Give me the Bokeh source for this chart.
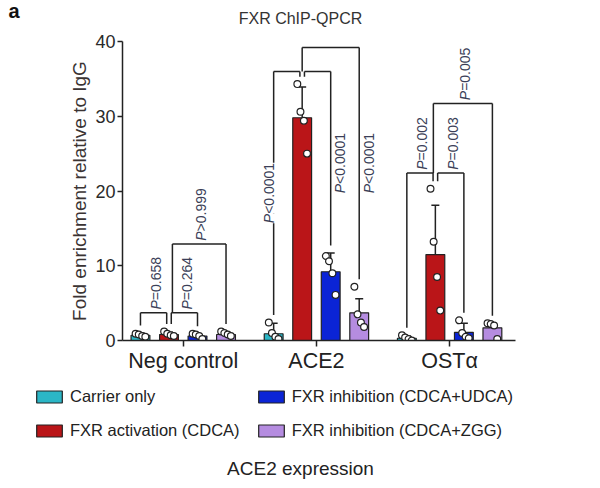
import math
from bokeh.plotting import figure
from bokeh.layouts import column
from bokeh.models import Range1d, FixedTicker, Legend, LegendItem, ColumnDataSource
from bokeh.embed import file_html
from bokeh.resources import INLINE
from bokeh.core.properties import value

# ---------------- data ----------------
groups = ["Neg control", "ACE2", "OSTα"]
series_names = ["Carrier only", "FXR activation (CDCA)",
                "FXR inhibition (CDCA+UDCA)", "FXR inhibition (CDCA+ZGG)"]
series_colors = ["#2BB6C6", "#BA1518", "#0B24D6", "#B58CE0"]

# mean fold enrichment per group (Neg control, ACE2, OSTα)
carrier_mean = [0.7, 0.9, 0.3]
cdca_mean = [0.8, 29.8, 11.5]
udca_mean = [0.6, 9.2, 1.1]
zgg_mean = [0.8, 3.7, 1.7]

# standard deviation (upper error bar)
carrier_sd = [0.3, 1.4, 0.3]
cdca_sd = [0.3, 4.1, 6.6]
udca_sd = [0.3, 2.5, 1.2]
zgg_sd = [0.3, 1.9, 0.4]

# individual replicates
carrier_pts = [[0.9, 0.8, 0.6, 0.5], [2.4, 1.0, 0.5, 0.2], [0.7, 0.4, 0.2, 0.0]]
cdca_pts = [[1.2, 0.9, 0.7, 0.6], [34.3, 30.6, 29.4, 25.0], [20.3, 13.2, 8.5, 4.0]]
udca_pts = [[0.9, 0.8, 0.6, 0.2], [11.3, 10.6, 9.0, 6.1], [2.7, 1.0, 0.5, 0.3]]
zgg_pts = [[1.2, 1.0, 0.8, 0.6], [7.2, 3.5, 2.4, 1.8], [2.3, 2.2, 2.0, 0.2]]

y_ticks = [0, 10, 20, 30, 40]

# significance comparisons: (group, series_a, series_b, label)
comparisons = [
    (0, 0, 1, "P=0.658"),
    (0, 1, 2, "P=0.264"),
    (0, 1, 3, "P>0.999"),
    (1, 0, 1, "P<0.0001"),
    (1, 1, 2, "P<0.0001"),
    (1, 1, 3, "P<0.0001"),
    (2, 0, 1, "P=0.002"),
    (2, 1, 2, "P=0.003"),
    (2, 1, 3, "P=0.005"),
]
# bracket layout: (bracket height, label placement, label start y)
bracket_layout = [
    (3.7, "top", None), (3.7, "top", None), (12.9, "top", None),
    (36.0, "left", 15.7), (36.0, "right", 19.7), (39.2, "right", 19.7),
    (22.4, "top", None), (22.4, "top", None), (31.7, "top", None),
]

title_text = "FXR ChIP-QPCR"
panel_letter = "a"
footer_text = "ACE2 expression"

means = [carrier_mean, cdca_mean, udca_mean, zgg_mean]
sds = [carrier_sd, cdca_sd, udca_sd, zgg_sd]
pts = [carrier_pts, cdca_pts, udca_pts, zgg_pts]

# ---------------- layout helpers ----------------
GROUP_STEP = 4.67
BAR_W = 0.66
JITTER = [-0.17, -0.06, 0.06, 0.17]
FONT = "Liberation Sans"
DARK = "#222222"
W = 600
TOP_H = 30
MAIN_TOP, FRAME_H, MAIN_BOTTOM = 11, 300, 34
MAIN_H = MAIN_TOP + FRAME_H + MAIN_BOTTOM
BOTTOM_H = 488 - TOP_H - MAIN_H
Y_MAX = 40
PX_PER_Y = FRAME_H / Y_MAX
P_LABEL_SIZE = 14
P_GLYPH_W = 0.667 * P_LABEL_SIZE  # advance width of "P" in Liberation Sans


def xpos(g, s):
    return g * GROUP_STEP + s


def bare(fig):
    fig.background_fill_color = "white"
    fig.border_fill_color = "white"
    fig.outline_line_color = None
    fig.grid.visible = False
    try:
        fig.frame_align = False
    except Exception:
        pass
    return fig


def strip(h):
    return bare(figure(width=W, height=h, output_backend="svg", toolbar_location=None,
                       x_range=Range1d(0, W), y_range=Range1d(h, 0),
                       x_axis_location=None, y_axis_location=None,
                       min_border=0, min_border_left=0, min_border_right=0,
                       min_border_top=0, min_border_bottom=0))


# ---------------- top strip: panel letter + title ----------------
top = strip(TOP_H)
top.text(x=[8], y=[10], text=[panel_letter], text_align="left", text_baseline="middle",
         text_font=value(FONT), text_font_size="20px", text_font_style="bold",
         text_color="#111111")
top.text(x=[300], y=[18], text=[title_text], text_align="center", text_baseline="middle",
         text_font=value(FONT), text_font_size="16px", text_color="#333333")

# ---------------- main chart ----------------
p = bare(figure(width=W, height=MAIN_H, output_backend="svg", toolbar_location=None,
                x_range=Range1d(-0.63, 13.15), y_range=Range1d(0, Y_MAX),
                min_border_left=122, min_border_right=85, min_border_top=MAIN_TOP,
                min_border_bottom=MAIN_BOTTOM))

bar_sources = []
for s in range(4):
    src = ColumnDataSource(dict(x=[xpos(g, s) for g in range(3)], top=means[s]))
    bar_sources.append(src)
    p.vbar(x="x", top="top", width=BAR_W, source=src, fill_color=series_colors[s],
           line_color=DARK, line_width=1.2)

    # error bars (upper)
    xs = [xpos(g, s) for g in range(3)]
    tops = [means[s][g] + sds[s][g] for g in range(3)]
    p.segment(x0=xs, y0=means[s], x1=xs, y1=tops, line_color=DARK, line_width=1.5)
    p.segment(x0=[x - 0.14 for x in xs], y0=tops, x1=[x + 0.14 for x in xs], y1=tops,
              line_color=DARK, line_width=1.5)

    # points
    px, py = [], []
    for g in range(3):
        for k, v in enumerate(pts[s][g]):
            px.append(xpos(g, s) + JITTER[k])
            py.append(v)
    p.scatter(px, py, size=6.8, fill_color="white", line_color=DARK, line_width=1.2)


def bar_peak(g, s):
    return max(max(pts[s][g]), means[s][g] + sds[s][g])


# brackets
bx0, by0, bx1, by1 = [], [], [], []
lab_x, lab_y, lab_t = [], [], []
inner_h = {}
for (g, a, b, txt), (h, place, ly) in zip(comparisons, bracket_layout):
    nested = (b - a) > 1
    if a == 1 and not nested:
        xa = xpos(g, a) + 0.08
        ya = bar_peak(g, a) + 1.0
    elif a == 1 and nested:
        xa = xpos(g, a) + (0.12 if g == 0 else (0.0 if g == 1 else -0.07))
        ya = inner_h[g]
    else:
        xa = xpos(g, a)
        ya = bar_peak(g, a) + 1.0
    if b == 1:
        xb = xpos(g, b) - 0.08
    else:
        xb = xpos(g, b)
    yb = bar_peak(g, b) + 1.0
    if not nested:
        inner_h[g] = h
    bx0 += [xa, xa, xb]
    by0 += [ya, h, h]
    bx1 += [xa, xb, xb]
    by1 += [h, h, yb]
    if place == "top":
        lab_x.append((xa + xb) / 2 + 0.08)
        lab_y.append(h + 0.45)
    elif place == "left":
        lab_x.append(xa - 0.15)
        lab_y.append(ly)
    else:
        lab_x.append(xb + 0.33)
        lab_y.append(ly)
    lab_t.append(txt)

p.segment(x0=bx0, y0=by0, x1=bx1, y1=by1, line_color=DARK, line_width=1.5)

# p-value labels: italic "P" followed by the upright remainder
p_off = P_GLYPH_W / PX_PER_Y
common = dict(angle=math.pi / 2, text_align="left", text_baseline="middle",
              text_font=value(FONT), text_font_size=f"{P_LABEL_SIZE}px",
              text_color="#3b3f58", background_fill_color="white")
p.text(x=lab_x, y=lab_y, text=[t[0] for t in lab_t], text_font_style="italic", **common)
p.text(x=lab_x, y=[y + p_off for y in lab_y], text=[t[1:] for t in lab_t], **common)

# axes
p.yaxis.ticker = FixedTicker(ticks=y_ticks)
p.yaxis.axis_label = "Fold enrichment relative to IgG"
p.yaxis.axis_label_text_font = FONT
p.yaxis.axis_label_text_font_style = "normal"
p.yaxis.axis_label_text_font_size = "19px"
p.yaxis.axis_label_text_color = "#3a3333"
p.yaxis.axis_label_standoff = 2
p.yaxis.major_label_text_font = FONT
p.yaxis.major_label_text_font_size = "18px"
p.yaxis.major_label_text_color = "#2a2a2a"
p.yaxis.major_label_standoff = 2
p.yaxis.minor_tick_line_color = None
p.yaxis.major_tick_out = 5
p.yaxis.major_tick_in = 0

group_centers = [xpos(g, 1.5) for g in range(len(groups))]
p.xaxis.ticker = FixedTicker(ticks=group_centers)
p.xaxis.major_label_overrides = {c: n for c, n in zip(group_centers, groups)}
p.xaxis.major_label_text_font = FONT
p.xaxis.major_label_text_font_size = "21.5px"
p.xaxis.major_label_text_color = "#222222"
p.xaxis.major_label_standoff = 2
p.xaxis.minor_tick_line_color = None
p.xaxis.major_tick_out = 6
p.xaxis.major_tick_in = 0

for ax in (p.xaxis, p.yaxis):
    ax.axis_line_color = DARK
    ax.axis_line_width = 1.5
    ax.major_tick_line_color = DARK
    ax.major_tick_line_width = 1.5

# ---------------- bottom strip: legend + footer ----------------
bot = strip(BOTTOM_H)
# legend proxies share the bar data but are mapped onto ranges that put them off-canvas
bot.extra_x_ranges = {"proxy_x": Range1d(20, 33.78)}
bot.extra_y_ranges = {"proxy_y": Range1d(100, 140)}
items = []
for s in range(4):
    r = bot.vbar(x="x", top="top", bottom=0, width=BAR_W, source=bar_sources[s],
                 x_range_name="proxy_x", y_range_name="proxy_y",
                 fill_color=series_colors[s], line_color=DARK, line_width=1.2)
    items.append(LegendItem(label=series_names[s], renderers=[r]))
legend = Legend(items=items, location=(33, 48), ncols=2,
                label_text_font=FONT, label_text_font_size="16.5px",
                label_text_color="#222222", glyph_width=32, glyph_height=15,
                label_standoff=5, spacing=15, padding=0, margin=0,
                border_line_color=None, background_fill_alpha=0)
bot.add_layout(legend, "center")
bot.text(x=[300], y=[93], text=[footer_text], text_align="center", text_baseline="middle",
         text_font=value(FONT), text_font_size="19px", text_color="#222222")

layout = column(top, p, bot, spacing=0)
open("out.html", "w").write(file_html(layout, INLINE))
